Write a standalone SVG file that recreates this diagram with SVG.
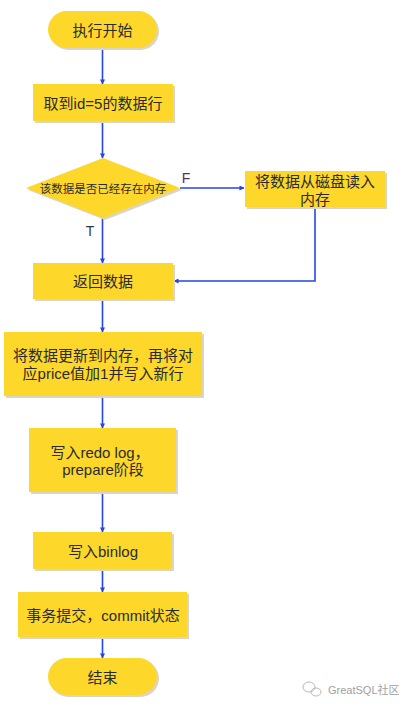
<svg xmlns="http://www.w3.org/2000/svg" width="405" height="707" viewBox="0 0 405 707">
  <defs>
    <marker id="arrow" viewBox="0 0 6 6" refX="5.5" refY="3" markerWidth="5" markerHeight="5" markerUnits="userSpaceOnUse" orient="auto">
      <path d="M0,0 L6,3 L0,6 Z" fill="#2446e8"/>
    </marker>
  </defs>
  <style>
    .shape { fill: #fdd82b; }
    .shadow { fill: #d9d5c8; }
    .label { font-family: "Liberation Sans", "Noto Sans CJK SC", sans-serif; font-size: 15px; fill: #2b2b2b; text-anchor: middle; dominant-baseline: central; }
    .small { font-size: 11.5px; }
    .edge { fill: none; stroke: #2446e8; stroke-width: 1.6; marker-end: url(#arrow); }
    .tag { font-family: "Liberation Sans", sans-serif; font-size: 14px; }
  </style>
  <rect width="405" height="707" fill="#ffffff"/>

  <g id="connectors">
    <line class="edge" x1="102.5" y1="48" x2="102.5" y2="84"/>
    <line class="edge" x1="102.5" y1="121" x2="102.5" y2="158"/>
    <line class="edge" x1="180" y1="188" x2="244" y2="188"/>
    <line class="edge" x1="102.5" y1="218" x2="102.5" y2="263"/>
    <polyline class="edge" points="315,207 315,281 174,281"/>
    <line class="edge" x1="102.5" y1="299" x2="102.5" y2="332"/>
    <line class="edge" x1="102.5" y1="396" x2="102.5" y2="428"/>
    <line class="edge" x1="102.5" y1="492" x2="102.5" y2="532"/>
    <line class="edge" x1="102.5" y1="569" x2="102.5" y2="592"/>
    <line class="edge" x1="102.5" y1="637" x2="102.5" y2="658"/>
    <text class="tag" x="186" y="183" text-anchor="middle" fill="#5a2d6e">F</text>
    <text class="tag" x="90" y="236" text-anchor="middle" fill="#2b3b4b">T</text>
  </g>

  <g id="start">
    <rect class="shadow" x="50" y="13" width="109" height="37" rx="18.5"/>
    <rect class="shape" x="48" y="11" width="109" height="37" rx="18.5"/>
    <text class="label" x="102.5" y="30">执行开始</text>
  </g>

  <g id="fetch-row">
    <rect class="shadow" x="35" y="86" width="140" height="37"/>
    <rect class="shape" x="33" y="84" width="140" height="37"/>
    <text class="label" x="103" y="103">取到id=5的数据行</text>
  </g>

  <g id="in-memory-check">
    <polygon class="shadow" points="105,160 182,190 105,220 28,190"/>
    <polygon class="shape" points="103,158 180,188 103,218 26,188"/>
    <text class="label small" x="103" y="189">该数据是否已经存在内存</text>
  </g>

  <g id="read-from-disk">
    <rect class="shadow" x="247" y="173" width="140" height="36"/>
    <rect class="shape" x="245" y="171" width="140" height="36"/>
    <text class="label" x="315" y="181">将数据从磁盘读入</text>
    <text class="label" x="315" y="199">内存</text>
  </g>

  <g id="return-data">
    <rect class="shadow" x="35" y="265" width="140" height="36"/>
    <rect class="shape" x="33" y="263" width="140" height="36"/>
    <text class="label" x="103" y="281">返回数据</text>
  </g>

  <g id="update-memory">
    <rect class="shadow" x="6" y="334" width="198" height="64"/>
    <rect class="shape" x="4" y="332" width="198" height="64"/>
    <text class="label" x="103" y="355">将数据更新到内存，再将对</text>
    <text class="label" x="103" y="373">应price值加1并写入新行</text>
  </g>

  <g id="redo-prepare">
    <rect class="shadow" x="31" y="430" width="147" height="64"/>
    <rect class="shape" x="29" y="428" width="147" height="64"/>
    <text class="label" x="100" y="452">写入redo log，</text>
    <text class="label" x="103" y="469">prepare阶段</text>
  </g>

  <g id="write-binlog">
    <rect class="shadow" x="35" y="534" width="139" height="37"/>
    <rect class="shape" x="33" y="532" width="139" height="37"/>
    <text class="label" x="103" y="551">写入binlog</text>
  </g>

  <g id="commit">
    <rect class="shadow" x="20" y="594" width="169" height="45"/>
    <rect class="shape" x="18" y="592" width="169" height="45"/>
    <text class="label" x="103" y="615">事务提交，commit状态</text>
  </g>

  <g id="end">
    <rect class="shadow" x="50" y="660" width="109" height="37" rx="18.5"/>
    <rect class="shape" x="48" y="658" width="109" height="37" rx="18.5"/>
    <text class="label" x="102.5" y="677">结束</text>
  </g>

  <g id="watermark" fill="none" stroke="#b8b8b8" stroke-width="1">
    <ellipse cx="309" cy="687" rx="6" ry="5"/>
    <ellipse cx="316" cy="692" rx="5" ry="4"/>
    <text x="328" y="690" font-family="Liberation Sans, Noto Sans CJK SC, sans-serif" font-size="11" fill="#a0a0a0" stroke="none" dominant-baseline="central">GreatSQL社区</text>
  </g>
</svg>
